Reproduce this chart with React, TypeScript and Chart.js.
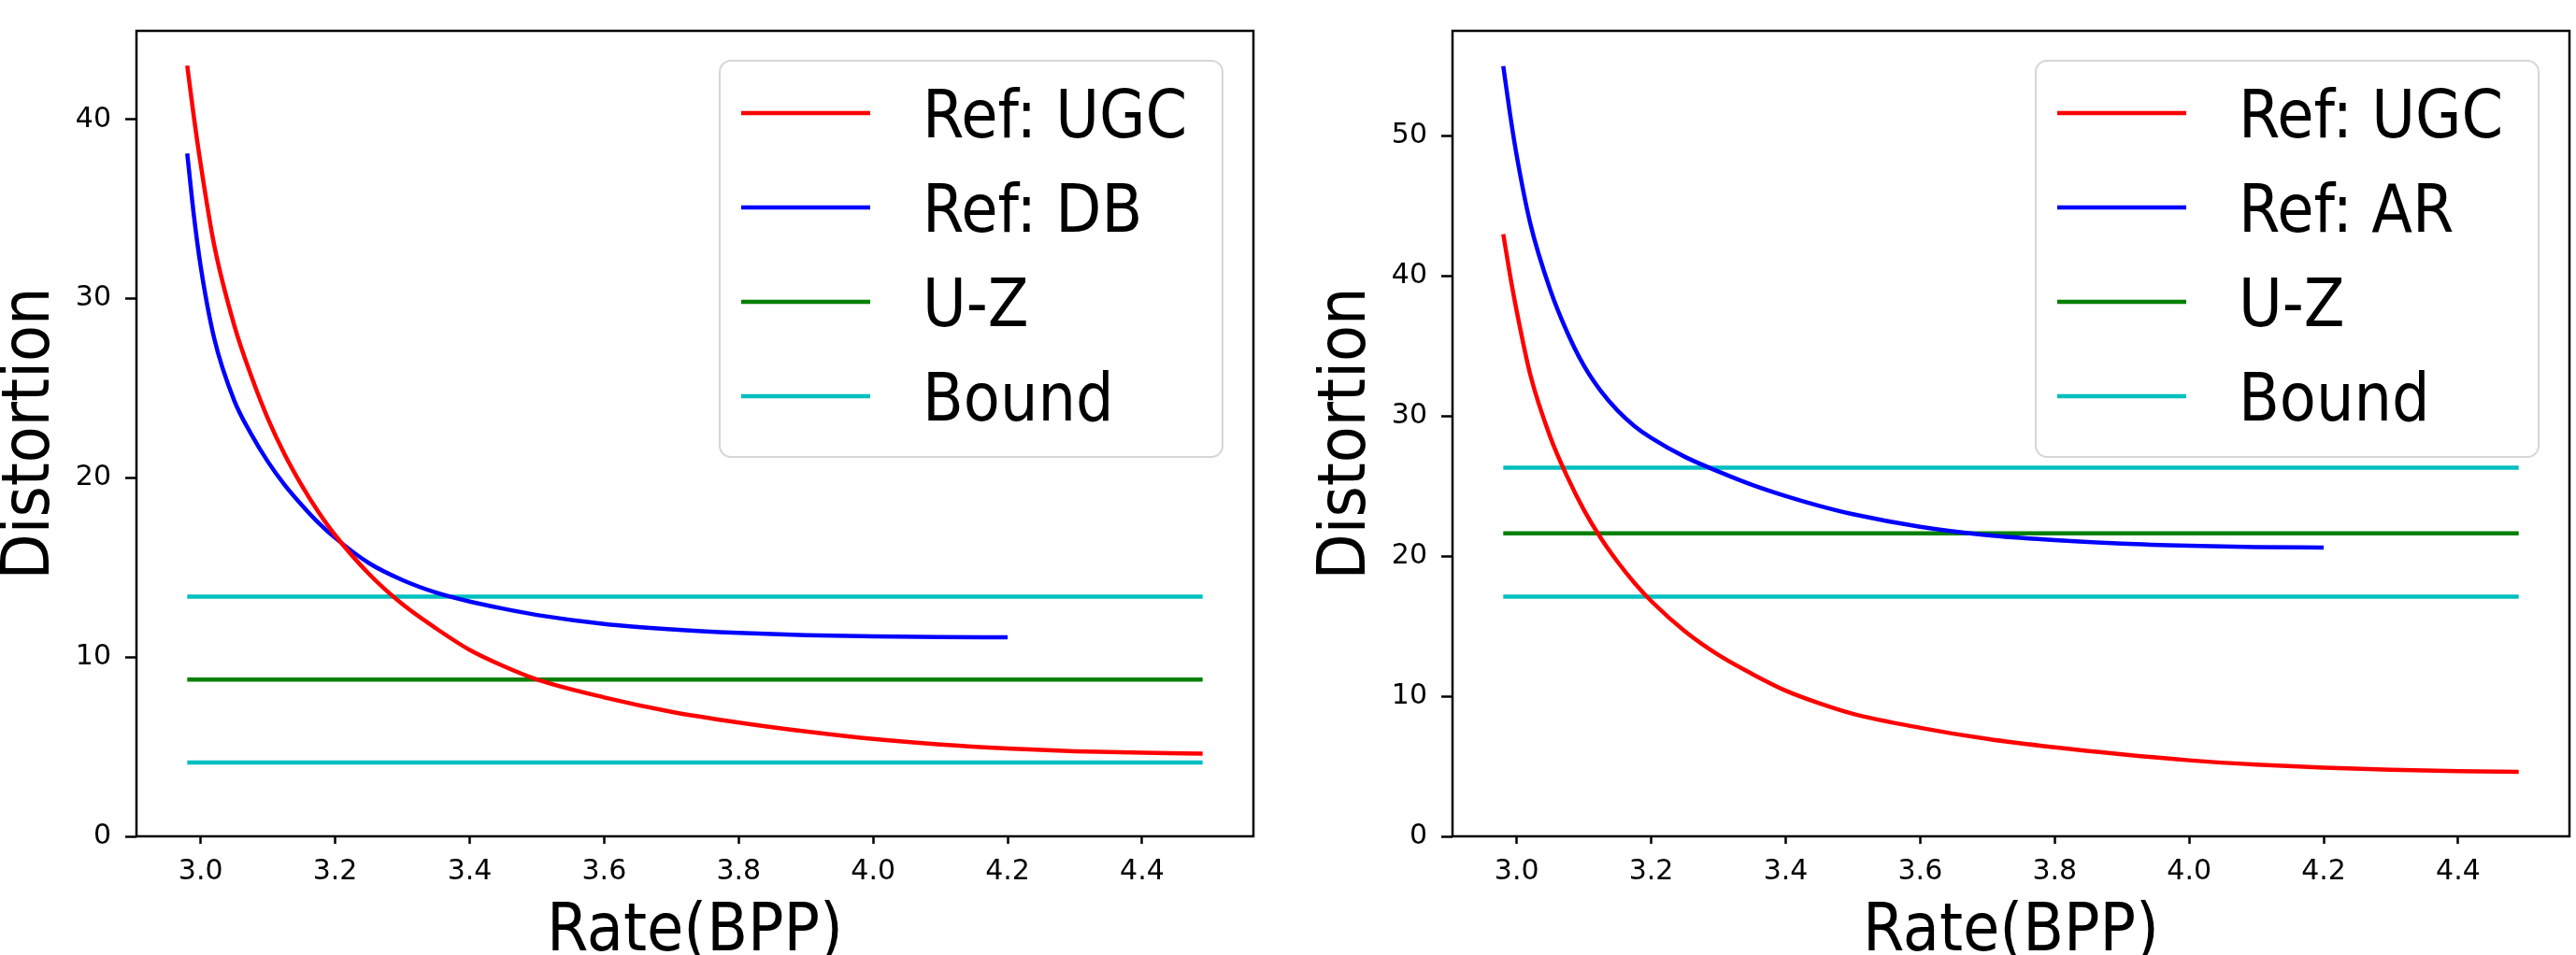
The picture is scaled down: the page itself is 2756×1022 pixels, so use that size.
import React, { useRef, useEffect } from "react";
import { Chart, registerables } from "chart.js";

Chart.register(...registerables);

// Ref: UGC curve (same in both panels)
const rateUGC = [2.98, 2.99, 3.0, 3.02, 3.05, 3.075, 3.1, 3.125, 3.15, 3.175, 3.2, 3.25, 3.3, 3.35, 3.4, 3.45, 3.5, 3.6, 3.7, 3.8, 3.9, 4.0, 4.1, 4.2, 4.3, 4.4, 4.49];
const distUGC = [43.0, 40.1, 37.5, 33.0, 28.5, 25.7, 23.3, 21.3, 19.6, 18.1, 16.8, 14.65, 12.95, 11.6, 10.4, 9.5, 8.75, 7.75, 6.95, 6.35, 5.85, 5.43, 5.12, 4.9, 4.75, 4.66, 4.61];

// Ref: DB (left) and Ref: AR (right)
const rateRef = [2.98, 2.99, 3.0, 3.02, 3.05, 3.075, 3.1, 3.125, 3.15, 3.175, 3.2, 3.25, 3.3, 3.35, 3.4, 3.45, 3.5, 3.6, 3.7, 3.8, 3.9, 4.0, 4.1, 4.2];
const distDB = [38.1, 34.6, 31.8, 27.8, 24.3, 22.45, 20.9, 19.6, 18.5, 17.5, 16.65, 15.25, 14.3, 13.6, 13.1, 12.7, 12.35, 11.85, 11.55, 11.35, 11.22, 11.16, 11.12, 11.1];
const distAR = [55.0, 51.6, 48.6, 43.8, 39.0, 36.0, 33.6, 31.8, 30.4, 29.3, 28.45, 27.1, 26.05, 25.1, 24.3, 23.6, 23.0, 22.1, 21.5, 21.15, 20.9, 20.75, 20.66, 20.62];

// flat lines
const rateFlat = [2.98, 4.49];
const uzLeft = 8.74;
const boundLeft = [13.37, 4.12];
const uzRight = 21.64;
const boundRight = [26.33, 17.12];

const xTicks = [3.0, 3.2, 3.4, 3.6, 3.8, 4.0, 4.2, 4.4];
const yTicksLeft = [0, 10, 20, 30, 40];
const yTicksRight = [0, 10, 20, 30, 40, 50];

const RED = "#ff0000";
const BLUE = "#0000ff";
const GREEN = "#008000";
const CYAN = "#00bfbf";

const TICK_FONT = "'DejaVu Sans', sans-serif";
const BIG_FONT = "'DejaVu Sans Condensed', 'DejaVu Sans', sans-serif";

const pts = (xs: number[], ys: number[]) => xs.map((x, i) => ({ x, y: ys[i] }));
const flat = (v: number) => rateFlat.map((x) => ({ x, y: v }));

const line = (label: string, color: string, data: { x: number; y: number }[]) => ({
  label,
  data,
  borderColor: color,
  backgroundColor: color,
  borderWidth: 4.5,
  pointRadius: 0,
  cubicInterpolationMode: "monotone" as const,
});

// axes frame + matplotlib-ish legend box
const frameLegend = {
  id: "frameLegend",
  afterDraw(chart: any) {
    const { ctx, chartArea: a } = chart;
    ctx.save();
    ctx.strokeStyle = "#000";
    ctx.lineWidth = 2.5;
    ctx.strokeRect(a.left, a.top, a.right - a.left, a.bottom - a.top);

    const seen = new Set<string>();
    const items = chart.data.datasets.filter((d: any) => {
      if (seen.has(d.label)) return false;
      seen.add(d.label);
      return true;
    });
    const w = 538;
    const h = 424;
    const x0 = a.right - 33 - w;
    const y0 = a.top + 32;
    ctx.beginPath();
    ctx.roundRect(x0, y0, w, h, 12);
    ctx.fillStyle = "rgba(255,255,255,0.8)";
    ctx.fill();
    ctx.strokeStyle = "#d6d6d6";
    ctx.lineWidth = 2;
    ctx.stroke();

    ctx.font = `71px ${BIG_FONT}`;
    ctx.textBaseline = "alphabetic";
    ctx.textAlign = "left";
    items.forEach((d: any, i: number) => {
      const cy = y0 + 56 + i * 101;
      ctx.beginPath();
      ctx.moveTo(x0 + 23, cy);
      ctx.lineTo(x0 + 161, cy);
      ctx.strokeStyle = d.borderColor;
      ctx.lineWidth = 4.5;
      ctx.stroke();
      ctx.fillStyle = "#000";
      ctx.fillText(d.label, x0 + 217, cy + 26);
    });
    ctx.restore();
  },
};

type PanelProps = {
  datasets: any[];
  yMax: number;
  yTicks: number[];
  left: number;
  width: number;
  padRight: number;
};

const Panel = ({ datasets, yMax, yTicks, left, width, padRight }: PanelProps) => {
  const chartRef = useRef<HTMLCanvasElement>(null);

  useEffect(() => {
    if (!chartRef.current) return;
    const ctx = chartRef.current.getContext("2d");
    if (!ctx) return;

    const chart = new Chart(ctx, {
      type: "line",
      data: { datasets },
      options: {
        animation: false,
        responsive: true,
        maintainAspectRatio: false,
        layout: { padding: { top: 5, right: padRight, left: 0, bottom: 0 } },
        plugins: {
          legend: { display: false },
          tooltip: { enabled: false },
        },
        scales: {
          x: {
            type: "linear",
            min: 2.9045,
            max: 4.5655,
            afterBuildTicks: (s: any) => {
              s.ticks = xTicks.map((value) => ({ value }));
            },
            afterFit: (s: any) => {
              s.height = 127;
            },
            border: { display: false },
            grid: {
              drawOnChartArea: false,
              drawTicks: true,
              tickLength: 8,
              tickColor: "#000",
              tickWidth: 2.5,
            },
            ticks: {
              color: "#000",
              padding: 12,
              maxRotation: 0,
              font: { family: TICK_FONT, size: 30 },
              callback: (v: any) => Number(v).toFixed(1),
            },
            title: {
              display: true,
              text: "Rate(BPP)",
              color: "#000",
              font: { family: BIG_FONT, size: 71, lineHeight: 1 },
              padding: { top: 0, bottom: -12 },
            },
          },
          y: {
            type: "linear",
            min: 0,
            max: yMax,
            afterBuildTicks: (s: any) => {
              s.ticks = yTicks.map((value) => ({ value }));
            },
            afterFit: (s: any) => {
              s.width = 146;
            },
            border: { display: false },
            grid: {
              drawOnChartArea: false,
              drawTicks: true,
              tickLength: 12,
              tickColor: "#000",
              tickWidth: 2.5,
            },
            ticks: {
              color: "#000",
              padding: 15,
              font: { family: TICK_FONT, size: 30 },
              callback: (v: any) => String(v),
            },
            title: {
              display: true,
              text: "Distortion",
              color: "#000",
              font: { family: BIG_FONT, size: 71, lineHeight: 1 },
              padding: { top: -2, bottom: 0 },
            },
          },
        },
      },
      plugins: [frameLegend],
    });

    return () => {
      chart.destroy();
    };
  }, []);

  return (
    <div style={{ position: "absolute", left, top: 0, width, height: 1022 }}>
      <canvas ref={chartRef} />
    </div>
  );
};

const leftSets = [
  line("Ref: UGC", RED, pts(rateUGC, distUGC)),
  line("Ref: DB", BLUE, pts(rateRef, distDB)),
  line("U-Z", GREEN, flat(uzLeft)),
  line("Bound", CYAN, flat(boundLeft[0])),
  line("Bound", CYAN, flat(boundLeft[1])),
];

const rightSets = [
  line("Ref: UGC", RED, pts(rateUGC, distUGC)),
  line("Ref: AR", BLUE, pts(rateRef, distAR)),
  line("U-Z", GREEN, flat(uzRight)),
  line("Bound", CYAN, flat(boundRight[0])),
  line("Bound", CYAN, flat(boundRight[1])),
];

export default function App() {
  return (
    <div
      style={{
        position: "absolute",
        left: 0,
        top: 0,
        width: 2756,
        height: 1022,
        overflow: "hidden",
        background: "#fff",
      }}
    >
      <Panel datasets={leftSets} yMax={44.94} yTicks={yTicksLeft} left={0} width={1378} padRight={37} />
      <Panel datasets={rightSets} yMax={57.52} yTicks={yTicksRight} left={1408} width={1348} padRight={7} />
    </div>
  );
}
